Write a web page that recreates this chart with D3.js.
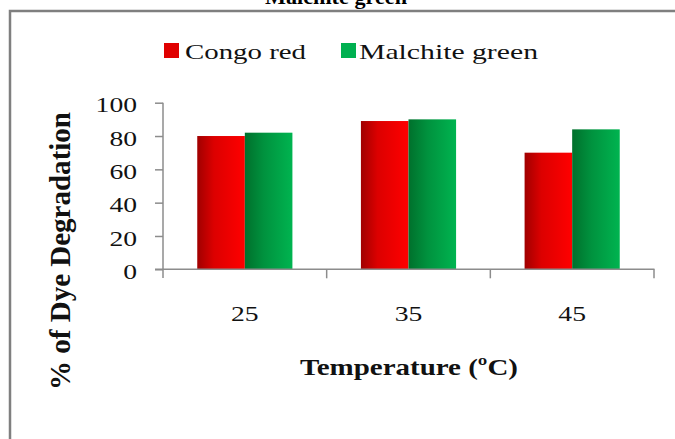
<!DOCTYPE html>
<html><head><meta charset="utf-8">
<script src="https://cdn.jsdelivr.net/npm/d3@7"></script>
<style>
html,body{margin:0;padding:0;background:#fff;}
svg{display:block;font-family:"Liberation Serif","Times New Roman",serif;}
</style></head>
<body>
<svg id="chart" width="675" height="439"></svg>
<script>
const categories = ["25", "35", "45"];
const seriesNames = ["Congo red", "Malchite green"];
const congoRed = [80, 89, 70];
const malchiteGreen = [82, 90, 84];
const yTicks = [0, 20, 40, 60, 80, 100];
const chartTitle = "Malchite green";
const xTitle = "Temperature (ºC)";
const yTitle = "% of Dye Degradation";

const svg = d3.select("#chart");
const defs = svg.append("defs");
function grad(id, stops){
  const g = defs.append("linearGradient").attr("id", id).attr("x1","0").attr("x2","1").attr("y1","0").attr("y2","0");
  stops.forEach(s => g.append("stop").attr("offset", s[0]).attr("stop-color", s[1]));
}
grad("gRed", [["0%","#a00000"],["35%","#dc0000"],["100%","#ff0000"]]);
grad("gGreen", [["0%","#00702c"],["40%","#00923e"],["100%","#00b450"]]);
const fills = {"Congo red":"url(#gRed)","Malchite green":"url(#gGreen)"};
const legendColors = {"Congo red":"#e00000","Malchite green":"#00b050"};

// border
svg.append("rect").attr("x",10).attr("y",11).attr("width",720).attr("height",440)
  .attr("fill","none").attr("stroke","#7f7f7f").attr("stroke-width",2.5);

// title (cut off at top)
svg.append("text").attr("x",336).attr("y",4).attr("text-anchor","middle")
  .attr("font-size",22).attr("font-weight","bold").attr("textLength",142)
  .attr("lengthAdjust","spacingAndGlyphs").text(chartTitle);

const x0 = d3.scaleBand().domain(categories).range([163, 654]).padding(0);
const x1 = d3.scaleBand().domain(seriesNames).range([0, x0.bandwidth()]).paddingInner(0).paddingOuter(0.72);
const y = d3.scaleLinear().domain([0, 100]).range([269.3, 102.7]);

const data = categories.map((c,i)=>({cat:c, vals:[
  {name:seriesNames[0], v:congoRed[i]},
  {name:seriesNames[1], v:malchiteGreen[i]}]}));

const groups = svg.append("g").selectAll("g").data(data).join("g")
  .attr("transform", d=>`translate(${x0(d.cat)},0)`);
groups.selectAll("rect").data(d=>d.vals).join("rect")
  .attr("x", d=>x1(d.name)).attr("width", x1.bandwidth())
  .attr("y", d=>y(d.v)).attr("height", d=>y(0)-y(d.v))
  .attr("fill", d=>fills[d.name]);

// y axis
const yAxis = svg.append("g").attr("transform","translate(163,0)")
  .call(d3.axisLeft(y).tickValues(yTicks).tickSize(8).tickPadding(18));
yAxis.select(".domain").attr("stroke","#8c8c8c").attr("stroke-width",1.5).attr("d","M0,102.7V278");
yAxis.selectAll(".tick line").attr("stroke","#8c8c8c").attr("stroke-width",1.5);
yAxis.selectAll(".tick text").attr("font-size",22).attr("fill","#111")
  .attr("font-family","Liberation Serif, serif").attr("dy","0.42em")
  .attr("textLength", d=>String(d).length*13.8).attr("lengthAdjust","spacingAndGlyphs");

// x axis
const xAxis = svg.append("g").attr("transform",`translate(0,${y(0)})`)
  .call(d3.axisBottom(x0).tickSize(0).tickPadding(0));
xAxis.select(".domain").attr("stroke","#8c8c8c").attr("stroke-width",1.5).attr("d","M155,0H654.5");
xAxis.selectAll(".tick line").remove();
xAxis.selectAll(".tick text").attr("font-size",22).attr("fill","#111")
  .attr("font-family","Liberation Serif, serif").attr("y",52).attr("dy",0)
  .attr("textLength",27.6).attr("lengthAdjust","spacingAndGlyphs");
// category boundary ticks
const bounds = categories.map(c=>x0(c)).concat([x0(categories[categories.length-1])+x0.bandwidth()]);
xAxis.selectAll("line.bt").data(bounds.slice(1)).join("line").attr("class","bt")
  .attr("x1",d=>d).attr("x2",d=>d).attr("y1",0).attr("y2",9)
  .attr("stroke","#8c8c8c").attr("stroke-width",1.5);

// axis titles
svg.append("text").attr("x",409).attr("y",375).attr("text-anchor","middle")
  .attr("font-size",24).attr("font-weight","bold").attr("fill","#111")
  .attr("textLength",218).attr("lengthAdjust","spacingAndGlyphs").text(xTitle);
svg.append("text").attr("transform","translate(70,251) rotate(-90)").attr("text-anchor","middle")
  .attr("font-size",30).attr("font-weight","bold").attr("fill","#111")
  .attr("textLength",278).attr("lengthAdjust","spacingAndGlyphs").text(yTitle);

// legend
const legendItems = [
  {name:seriesNames[0], sx:164, tx:185, tl:121},
  {name:seriesNames[1], sx:341, tx:359, tl:179}];
const lg = svg.append("g");
legendItems.forEach(it=>{
  lg.append("rect").attr("x",it.sx).attr("y",43).attr("width",15).attr("height",15).attr("fill",legendColors[it.name]);
  lg.append("text").attr("x",it.tx).attr("y",59).attr("font-size",22).attr("fill","#111")
    .attr("textLength",it.tl).attr("lengthAdjust","spacingAndGlyphs").text(it.name);
});
</script>
</body></html>
